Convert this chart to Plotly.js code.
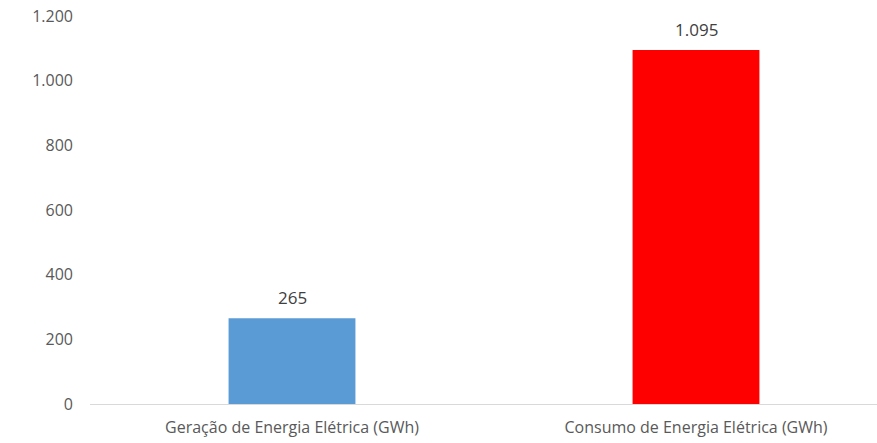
<!DOCTYPE html>
<html><head><meta charset="utf-8">
<script src="https://cdn.plot.ly/plotly-3.0.1.min.js"></script>
<style>html,body{margin:0;padding:0;background:#fff}</style>
</head><body><div id="chart" style="width:877px;height:443px"></div>
<script>
const categories = ["Geração de Energia Elétrica (GWh)", "Consumo de Energia Elétrica (GWh)"];
const values = [265, 1095];
const barColors = ["#5B9BD5", "#FF0000"];
const yTicks = [0, 200, 400, 600, 800, 1000, 1200];

const trace = {
  type: 'bar', x: categories, y: values,
  marker: {color: barColors},
  width: 0.314, hoverinfo: 'none'
};
const fmt = v => v.toLocaleString('de-DE');
const annotations = categories.map((c, i) => ({
  x: c, y: values[i], xref: 'x', yref: 'y', text: fmt(values[i]),
  showarrow: false, yanchor: 'bottom', yshift: 7,
  font: {family: 'Open Sans, sans-serif', size: 17, color: '#404040'}
}));
const layout = {
  width: 877, height: 443,
  margin: {l: 90, r: 0, t: 16, b: 38.5},
  paper_bgcolor: '#fff', plot_bgcolor: '#fff',
  separators: ',.',
  showlegend: false,
  annotations: annotations,
  font: {family: 'Open Sans, sans-serif', size: 15, color: '#595959'},
  xaxis: {type: 'category', range: [-0.5, 1.448], showgrid: false, zeroline: false,
    showline: true, linecolor: '#D9D9D9', linewidth: 1.3, ticks: '',
    ticklabelstandoff: 8,
    tickfont: {size: 16, color: '#595959'}},
  yaxis: {range: [0, 1200], tickvals: yTicks, tickformat: ',', showgrid: false,
    zeroline: false, showline: false, ticks: '', ticklabelstandoff: 16,
    tickfont: {size: 16, color: '#595959'}}
};
Plotly.newPlot('chart', [trace], layout, {displayModeBar: false, staticPlot: true});
</script></body></html>
